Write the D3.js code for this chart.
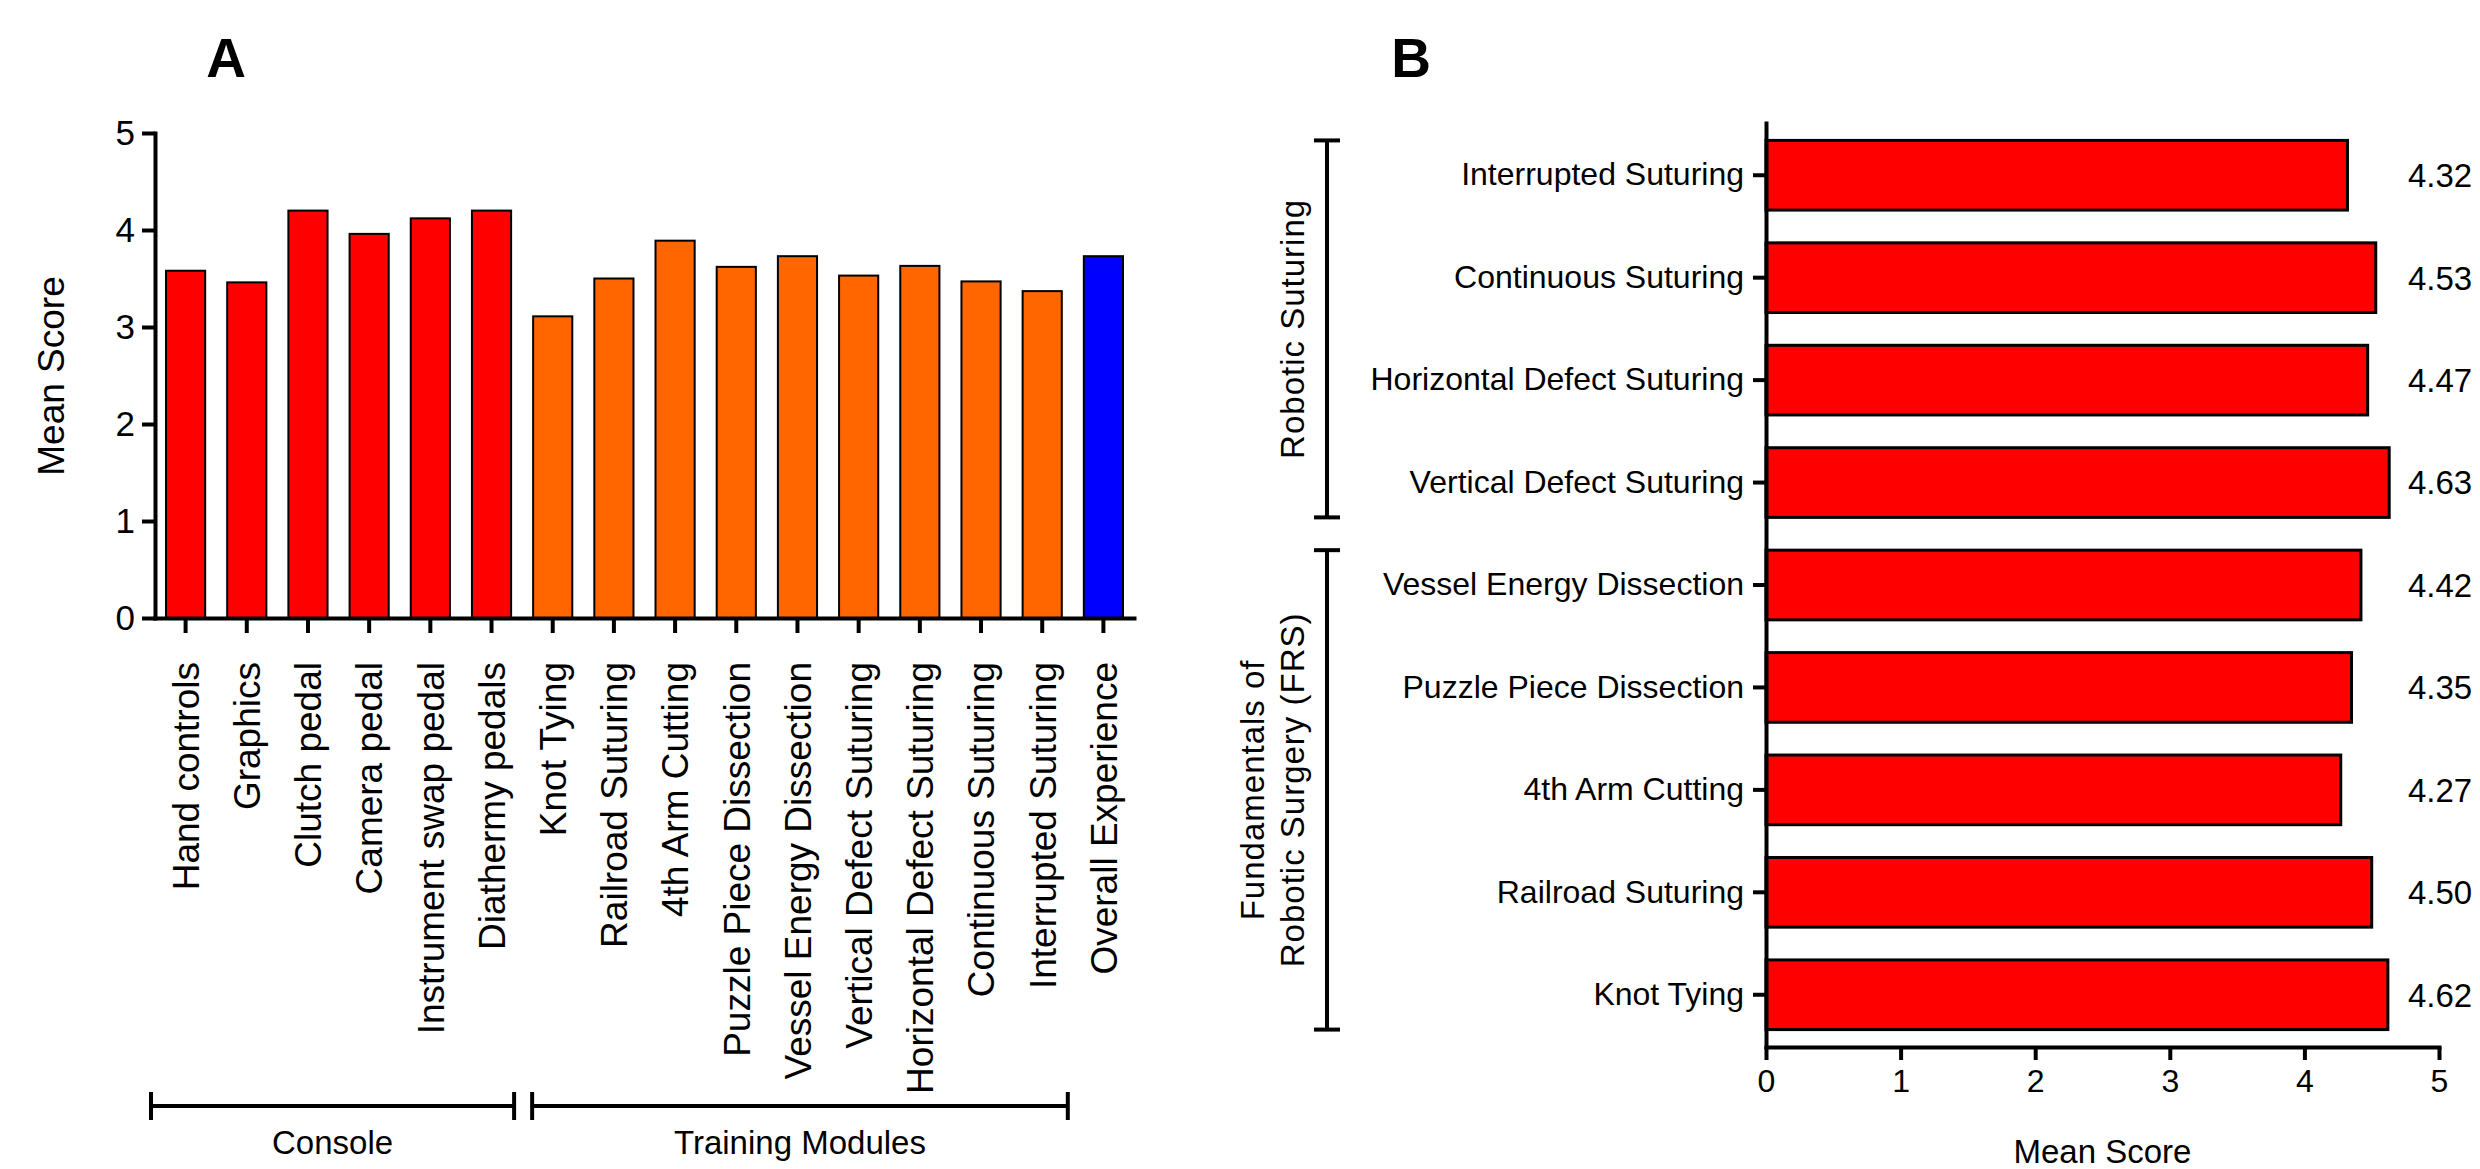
<!DOCTYPE html>
<html>
<head>
<meta charset="utf-8">
<script src="https://cdn.jsdelivr.net/npm/d3@7"></script>
<style>
  body { margin: 0; background: #fff; }
  text { font-family: "Liberation Sans", Arial, sans-serif; fill: #000; }
</style>
</head>
<body>
<svg id="board" width="2480" height="1169"></svg>
<script>
// panel A: questionnaire items (console, training modules, overall)
const consoleItems = ["Hand controls", "Graphics", "Clutch pedal", "Camera pedal",
    "Instrument swap pedal", "Diathermy pedals"];
const consoleScores = [3.58, 3.46, 4.20, 3.96, 4.12, 4.20];
const moduleItems = ["Knot Tying", "Railroad Suturing", "4th Arm Cutting",
    "Puzzle Piece Dissection", "Vessel Energy Dissection", "Vertical Defect Suturing",
    "Horizontal Defect Suturing", "Continuous Suturing", "Interrupted Suturing"];
const moduleScores = [3.11, 3.50, 3.89, 3.62, 3.73, 3.53, 3.63, 3.47, 3.37];
const overallItems = ["Overall Experience"];
const overallScores = [3.73];
const scoreTicks = [0, 1, 2, 3, 4, 5];

// panel B: FRS tasks, top to bottom
const frsTasks = ["Interrupted Suturing", "Continuous Suturing", "Horizontal Defect Suturing",
    "Vertical Defect Suturing", "Vessel Energy Dissection", "Puzzle Piece Dissection",
    "4th Arm Cutting", "Railroad Suturing", "Knot Tying"];
const frsScores = [4.32, 4.53, 4.47, 4.63, 4.42, 4.35, 4.27, 4.50, 4.62];

const red = "#ff0000", orange = "#ff6600", blue = "#0000ff";

let svg = d3.select("#board");

// ---------- panel A ----------
let dataA = [];
consoleItems.forEach((c, i) => dataA.push({name: c, value: consoleScores[i], color: red}));
moduleItems.forEach((c, i) => dataA.push({name: c, value: moduleScores[i], color: orange}));
overallItems.forEach((c, i) => dataA.push({name: c, value: overallScores[i], color: blue}));

let xA = d3.scaleBand()
    .domain(dataA.map(d => d.name))
    .range([155, 1134])
    .paddingInner(0.36)
    .paddingOuter(0.18);
let yA = d3.scaleLinear().domain([0, 5]).range([618, 133]);

let panelA = svg.append("g");

panelA.selectAll("rect")
    .data(dataA)
    .enter()
    .append("rect")
    .attr("x", d => xA(d.name))
    .attr("y", d => yA(d.value))
    .attr("width", xA.bandwidth())
    .attr("height", d => yA(0) - yA(d.value))
    .attr("fill", d => d.color)
    .attr("stroke", "#000")
    .attr("stroke-width", 2);

let yAxisA = panelA.append("g")
    .attr("transform", "translate(155,0)")
    .call(d3.axisLeft(yA).tickValues(scoreTicks).tickFormat(d3.format("d"))
        .tickSize(13).tickSizeOuter(0).tickPadding(7));

let xAxisA = panelA.append("g")
    .attr("transform", "translate(0,618)")
    .call(d3.axisBottom(xA).tickSize(15).tickSizeOuter(0));

xAxisA.selectAll("text")
    .attr("transform", "rotate(-90)")
    .attr("text-anchor", "end")
    .attr("x", -44)
    .attr("y", 0)
    .attr("dy", "0.36em")
    .style("font-size", "37px");

yAxisA.selectAll("text").style("font-size", "35px");

[yAxisA, xAxisA].forEach(ax => {
    ax.select(".domain").attr("stroke-width", 4).attr("stroke-linecap", "square");
    ax.selectAll(".tick line").attr("stroke-width", 4);
});

panelA.append("text")
    .attr("transform", "translate(64,376) rotate(-90)")
    .attr("text-anchor", "middle")
    .style("font-size", "37px")
    .text("Mean Score");

panelA.append("text")
    .attr("x", 226).attr("y", 77)
    .attr("text-anchor", "middle")
    .style("font-size", "55px")
    .style("font-weight", "bold")
    .text("A");

// group brackets under the x labels
const groupsA = [
    {label: "Console", first: consoleItems[0], last: consoleItems[consoleItems.length - 1], padL: 15, padR: 3},
    {label: "Training Modules", first: moduleItems[0], last: moduleItems[moduleItems.length - 1], padL: 1, padR: 6}
];
const bracketY = 1106;
groupsA.forEach(g => {
    let x0 = xA(g.first) - g.padL;
    let x1 = xA(g.last) + xA.bandwidth() + g.padR;
    let br = panelA.append("g").attr("stroke", "#000").attr("stroke-width", 4);
    br.append("line").attr("x1", x0).attr("x2", x1).attr("y1", bracketY).attr("y2", bracketY);
    br.append("line").attr("x1", x0).attr("x2", x0).attr("y1", bracketY - 14).attr("y2", bracketY + 14);
    br.append("line").attr("x1", x1).attr("x2", x1).attr("y1", bracketY - 14).attr("y2", bracketY + 14);
    panelA.append("text")
        .attr("x", (x0 + x1) / 2).attr("y", bracketY + 48)
        .attr("text-anchor", "middle")
        .style("font-size", "33px")
        .text(g.label);
});

// ---------- panel B ----------
let xB = d3.scaleLinear().domain([0, 5]).range([1766, 2439]);
let yB = d3.scaleBand()
    .domain(frsTasks)
    .range([123, 1047])
    .paddingInner(0.32)
    .paddingOuter(0.17);

let panelB = svg.append("g");

panelB.selectAll("rect")
    .data(frsTasks)
    .enter()
    .append("rect")
    .attr("x", xB(0))
    .attr("y", d => yB(d))
    .attr("width", (d, i) => xB(frsScores[i]) - xB(0))
    .attr("height", yB.bandwidth())
    .attr("fill", red)
    .attr("stroke", "#000")
    .attr("stroke-width", 3);

panelB.selectAll(".value")
    .data(frsTasks)
    .enter()
    .append("text")
    .attr("class", "value")
    .attr("x", 2408)
    .attr("y", d => yB(d) + yB.bandwidth() / 2)
    .attr("dy", "0.36em")
    .style("font-size", "33px")
    .text((d, i) => d3.format(".2f")(frsScores[i]));

let yAxisB = panelB.append("g")
    .attr("transform", "translate(1766,0)")
    .call(d3.axisLeft(yB).tickSize(13).tickSizeOuter(0).tickPadding(9));
yAxisB.selectAll("text").style("font-size", "32px");

let xAxisB = panelB.append("g")
    .attr("transform", "translate(0,1047)")
    .call(d3.axisBottom(xB).tickValues(scoreTicks).tickFormat(d3.format("d"))
        .tickSize(13).tickSizeOuter(0).tickPadding(9));
xAxisB.selectAll("text").style("font-size", "32px");

[yAxisB, xAxisB].forEach(ax => {
    ax.select(".domain").attr("stroke-width", 4).attr("stroke-linecap", "square");
    ax.selectAll(".tick line").attr("stroke-width", 4);
});

panelB.append("text")
    .attr("x", xB(2.5)).attr("y", 1163)
    .attr("text-anchor", "middle")
    .style("font-size", "33px")
    .text("Mean Score");

panelB.append("text")
    .attr("x", 1411).attr("y", 77)
    .attr("text-anchor", "middle")
    .style("font-size", "55px")
    .style("font-weight", "bold")
    .text("B");

// task group brackets on the left
const groupsB = [
    {label: ["Robotic Suturing"], first: frsTasks[0], last: frsTasks[3]},
    {label: ["Fundamentals of", "Robotic Surgery (FRS)"], first: frsTasks[4], last: frsTasks[8]}
];
const bracketX = 1327;
groupsB.forEach(g => {
    let y0 = yB(g.first);
    let y1 = yB(g.last) + yB.bandwidth();
    let br = panelB.append("g").attr("stroke", "#000").attr("stroke-width", 4);
    br.append("line").attr("x1", bracketX).attr("x2", bracketX).attr("y1", y0).attr("y2", y1);
    br.append("line").attr("x1", bracketX - 13).attr("x2", bracketX + 13).attr("y1", y0).attr("y2", y0);
    br.append("line").attr("x1", bracketX - 13).attr("x2", bracketX + 13).attr("y1", y1).attr("y2", y1);
    let n = g.label.length;
    g.label.forEach((line, k) => {
        let bx = 1304 - (n - 1 - k) * 40;
        panelB.append("text")
            .attr("transform", `translate(${bx},${(y0 + y1) / 2}) rotate(-90)`)
            .attr("text-anchor", "middle")
            .style("font-size", "33px")
            .style("letter-spacing", "1px")
            .text(line);
    });
});
</script>
</body>
</html>
